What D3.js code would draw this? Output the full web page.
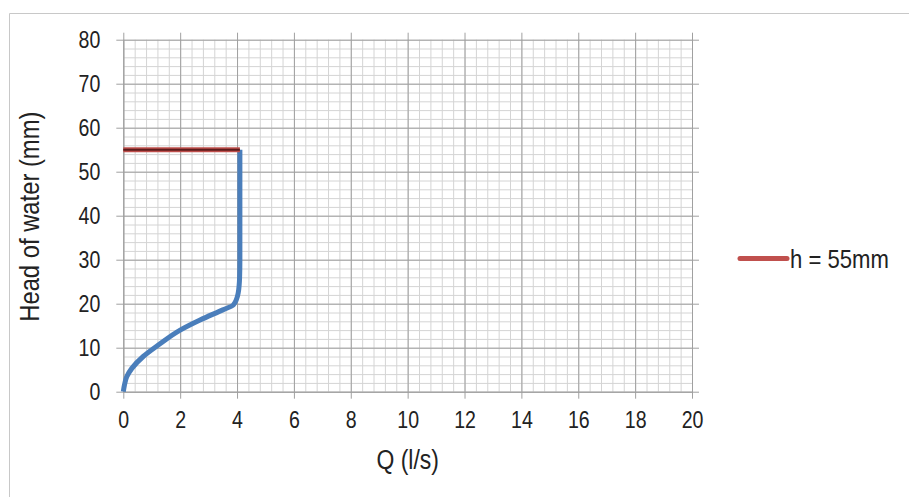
<!DOCTYPE html>
<html>
<head>
<meta charset="utf-8">
<script src="https://cdn.jsdelivr.net/npm/d3@7"></script>
<style>
  body { margin: 0; background: #fff; }
  text { font-family: "Liberation Sans Narrow", "Arial Narrow", "Liberation Sans", sans-serif; fill: #222; }
</style>
</head>
<body>
<div id="chart"></div>
<script>
// flow curve
const flowQ = [0, 0.04, 0.12, 0.3, 0.7, 1.23, 2.0, 2.7, 3.5, 3.87, 4.04, 4.09, 4.1, 4.1];
const flowH = [0, 1.5, 3.4, 5.3, 8.0, 10.6, 14.0, 16.3, 18.6, 19.7, 22.4, 26, 30, 55];

// h = 55mm line
const limitQ = [0, 4.1];
const limitH = [55, 55];
const legendLabel = "h = 55mm";

const xTicks = [0, 2, 4, 6, 8, 10, 12, 14, 16, 18, 20];
const yTicks = [0, 10, 20, 30, 40, 50, 60, 70, 80];

const W = 909, H = 497;
const margin = { top: 39.7, left: 123.3, right: W - 692, bottom: H - 391.7 };
const width = W - margin.left - margin.right;
const height = H - margin.top - margin.bottom;
const squeeze = 0.85; // narrow face is not installed, so compress by hand

function narrow(sel, extra) {
    sel.each(function() {
        const t = d3.select(this);
        const x0 = +t.attr("x") || 0;
        t.attr("x", x0 / squeeze).attr("transform", (extra || "") + ` scale(${squeeze},1)`);
    });
}

const root = d3.select("#chart").append("svg")
    .attr("width", W).attr("height", H);

// outer chart border
root.append("path")
    .attr("d", `M9.5,${H} V13.5 H${W}`)
    .attr("fill", "none").attr("stroke", "#c8c8c8").attr("stroke-width", 1);

const svg = root.append("g")
    .attr("transform", `translate(${margin.left},${margin.top})`);

const x = d3.scaleLinear().domain([0, 20]).range([0, width]);
const y = d3.scaleLinear().domain([0, 80]).range([height, 0]);

// minor grid
svg.append("g")
    .call(d3.axisBottom(x).tickValues(d3.range(0, 20.001, 0.4)).tickSize(-height).tickFormat(""))
    .attr("transform", `translate(0,${height})`)
    .call(g => g.select(".domain").remove())
    .selectAll("line").attr("stroke", "#d4d4d4");
svg.append("g")
    .call(d3.axisLeft(y).tickValues(d3.range(0, 80.001, 2)).tickSize(-width).tickFormat(""))
    .call(g => g.select(".domain").remove())
    .selectAll("line").attr("stroke", "#d4d4d4");

// major grid + axes
svg.append("g")
    .attr("transform", `translate(0,${height})`)
    .call(d3.axisBottom(x).tickValues(xTicks).tickSizeInner(-height - 7).tickSizeOuter(0).tickPadding(20))
    .call(g => g.select(".domain").attr("stroke", "#a0a0a0"))
    .call(g => g.selectAll(".tick line").attr("stroke", "#a0a0a0").attr("y1", 7))
    .selectAll("text").style("font-size", "23px").attr("fill", "#222")
    .call(narrow);

svg.append("g")
    .call(d3.axisLeft(y).tickValues(yTicks).tickSizeInner(-width - 7).tickSizeOuter(0).tickPadding(23))
    .call(g => g.select(".domain").attr("stroke", "#a0a0a0"))
    .call(g => g.selectAll(".tick line").attr("stroke", "#a0a0a0").attr("x1", -7))
    .selectAll("text").style("font-size", "23px").attr("fill", "#222")
    .call(narrow);

// axis titles
svg.append("text")
    .attr("x", width / 2).attr("y", height + 77)
    .attr("text-anchor", "middle")
    .style("font-size", "27px")
    .text("Q (l/s)")
    .call(narrow);

svg.append("text")
    .attr("text-anchor", "middle")
    .style("font-size", "28px")
    .text("Head of water (mm)")
    .call(narrow, `translate(${-margin.left + 38.5},${height / 2 + 1}) rotate(-90)`);

// series
const line = d3.line().x(d => x(d[0])).y(d => y(d[1]));

svg.append("path")
    .datum(flowQ.map((q, i) => [q, flowH[i]]))
    .attr("fill", "none").attr("stroke", "#4a7ebb").attr("stroke-width", 5)
    .attr("d", line.curve(d3.curveMonotoneY));

const limitData = limitQ.map((q, i) => [q, limitH[i]]);
svg.append("path")
    .datum(limitData)
    .attr("fill", "none").attr("stroke", "#c0504d").attr("stroke-width", 5)
    .attr("d", d3.line().x(d => x(d[0])).y(d => y(d[1])));
svg.append("path")
    .datum(limitData)
    .attr("fill", "none").attr("stroke", "#5c1c1c").attr("stroke-width", 2)
    .attr("d", d3.line().x(d => x(d[0])).y(d => y(d[1])));

// legend
const legend = root.append("g").attr("transform", "translate(740,258.5)");
legend.append("line")
    .attr("x1", 0).attr("x2", 47).attr("y1", 0).attr("y2", 0)
    .attr("stroke", "#c0504d").attr("stroke-width", 5).attr("stroke-linecap", "round");
legend.append("text")
    .attr("x", 50).attr("y", 9)
    .style("font-size", "26px")
    .text(legendLabel)
    .call(narrow);
</script>
</body>
</html>
